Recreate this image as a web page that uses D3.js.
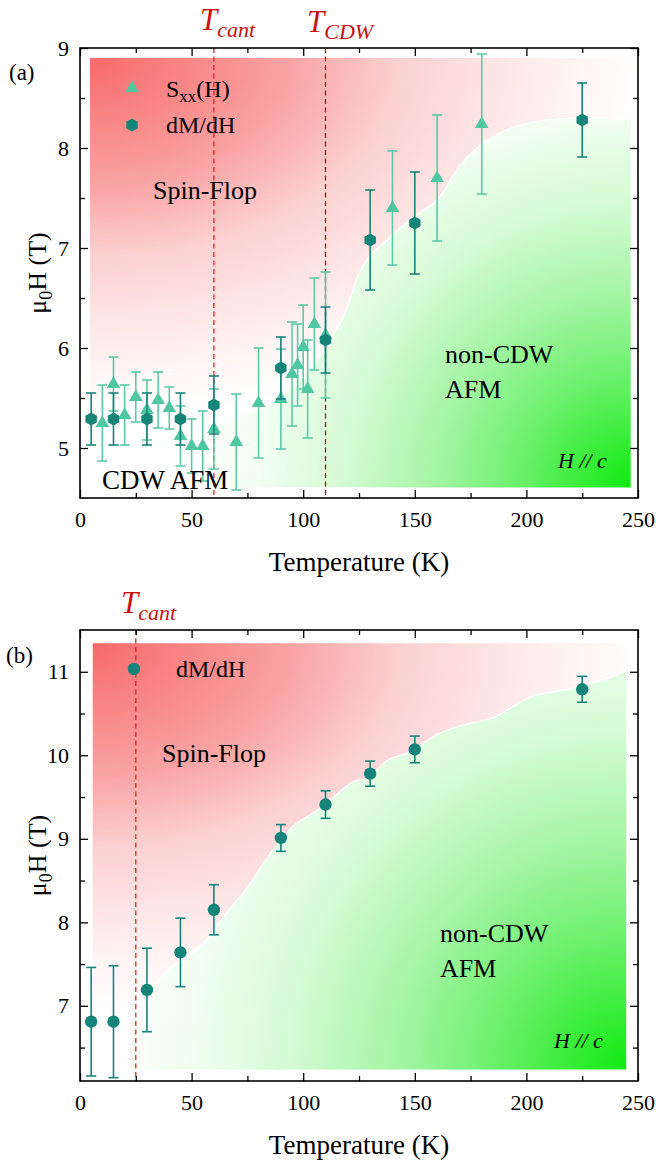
<!DOCTYPE html>
<html>
<head>
<meta charset="utf-8">
<script src="https://cdn.jsdelivr.net/npm/d3@7"></script>
<style>body{margin:0;background:#fff} svg text{font-family:"Liberation Serif","Times New Roman",serif}</style>
</head>
<body>
<div id="container"></div>
<script>
// ---- panel (a): S_xx(H) triangles
const sxxT   = [10, 15, 20, 25, 30, 35, 40, 45, 50, 55, 60, 70, 80, 90, 95, 97.5, 100, 102, 105, 110, 140, 160, 180];
const sxxH   = [5.25, 5.64, 5.33, 5.51, 5.38, 5.48, 5.40, 5.12, 5.02, 5.02, 5.19, 5.06, 5.45, 5.49, 5.74, 5.83, 6.01, 5.59, 6.24, 6.13, 7.40, 7.70, 8.24];
const sxxErr = [0.38, 0.27, 0.30, 0.25, 0.30, 0.28, 0.21, 0.30, 0.27, 0.35, 0.40, 0.48, 0.55, 0.50, 0.52, 0.41, 0.42, 0.49, 0.46, 0.63, 0.57, 0.63, 0.70];

// ---- panel (a): dM/dH hexagons
const dmaT   = [5, 15, 30, 45, 60, 90, 110, 130, 150, 225];
const dmaH   = [5.29, 5.29, 5.29, 5.29, 5.43, 5.80, 6.08, 7.08, 7.25, 8.28];
const dmaErr = [0.26, 0.26, 0.26, 0.26, 0.29, 0.31, 0.33, 0.50, 0.51, 0.37];

// ---- panel (b): dM/dH circles
const dmbT   = [5, 15, 30, 45, 60, 90, 110, 130, 150, 225];
const dmbH   = [6.81, 6.81, 7.19, 7.64, 8.15, 9.01, 9.41, 9.78, 10.07, 10.79];
const dmbErr = [0.65, 0.67, 0.50, 0.41, 0.30, 0.16, 0.165, 0.15, 0.16, 0.155];

// phase boundary (spin-flop / AFM)
const bndaT = [4.5, 30, 49, 75, 90, 104, 114, 118, 125, 139, 152, 160, 171, 185, 209, 224, 247];
const bndaH = [5.15, 5.15, 5.2, 5.34, 5.51, 5.81, 6.15, 6.31, 6.74, 7.11, 7.35, 7.48, 7.85, 8.11, 8.28, 8.30, 8.28];
const bndbT = [5.7, 19, 21, 27, 34, 45, 55, 64, 75, 84, 95, 106, 113, 123, 129, 137, 146, 161, 170, 185, 203, 215, 233, 245];
const bndbH = [6.2, 6.2, 6.46, 6.86, 7.26, 7.54, 7.74, 8.06, 8.42, 8.78, 9.14, 9.34, 9.49, 9.69, 9.73, 9.93, 10.02, 10.26, 10.35, 10.45, 10.71, 10.77, 10.89, 11.01];

// tick values
const xMajor = [0, 50, 100, 150, 200, 250];
const xMinor = [25, 75, 125, 175, 225];
const yaMajor = [5, 6, 7, 8, 9];
const yaMinor = [5.5, 6.5, 7.5, 8.5];
const ybMajor = [7, 8, 9, 10, 11];
const ybMinor = [6.5, 7.5, 8.5, 9.5, 10.5];

const triColor = "#4fc7a0";
const hexColor = "#17847a";

const svg = d3.select("#container").append("svg")
	.attr("width", 656)
	.attr("height", 1161);

const defs = svg.append("defs");

function radial(id, cx, cy, rx, ry, stops) {
	const g = defs.append("radialGradient")
		.attr("id", id)
		.attr("gradientUnits", "userSpaceOnUse")
		.attr("cx", 0).attr("cy", 0).attr("r", 1)
		.attr("gradientTransform", `translate(${cx},${cy}) scale(${rx},${ry})`);
	stops.forEach(s => g.append("stop").attr("offset", s[0]).attr("stop-color", s[1]));
}
const redStops = [[0, "#f76a6a"], [0.35, "#f9a2a2"], [0.55, "#fcd0d0"], [0.75, "#fee8e8"], [0.92, "#fffafa"], [1, "#ffffff"]];
const greenStops = [[0, "#10ea10"], [0.25, "#6af06a"], [0.45, "#a6f5a6"], [0.65, "#d4fbd4"], [0.85, "#f2fef2"], [1, "#ffffff"]];

function hexPath(r) {
	const pts = d3.range(6).map(k => {
		const a = -Math.PI / 2 + k * Math.PI / 3;
		return [r * Math.cos(a), r * Math.sin(a)];
	});
	return "M" + pts.map(p => p.join(",")).join("L") + "Z";
}
const triPath = d3.symbol().type(d3.symbolTriangle).size(80)();

function errorBars(g, T, H, E, x, y, color) {
	const eg = g.append("g").attr("stroke", color).attr("stroke-width", 1.6).attr("fill", "none");
	T.forEach((t, i) => {
		const px = x(t), y1 = y(H[i] + E[i]), y2 = y(H[i] - E[i]);
		eg.append("line").attr("x1", px).attr("x2", px).attr("y1", y1).attr("y2", y2);
		eg.append("line").attr("x1", px - 5).attr("x2", px + 5).attr("y1", y1).attr("y2", y1);
		eg.append("line").attr("x1", px - 5).attr("x2", px + 5).attr("y1", y2).attr("y2", y2);
	});
}

function axes(g, x, y, yMajor, yMinor) {
	const [x0, x1] = x.range();
	const [yb, yt] = y.range();
	const fmt = d3.format("~g");
	const style = a => {
		a.select(".domain").remove();
		a.attr("font-size", 22).attr("font-family", null);
		a.selectAll("line").attr("stroke", "#000").attr("stroke-width", 1.3);
		a.selectAll("text").attr("fill", "#000");
	};
	g.append("g").attr("transform", `translate(0,${yb})`)
		.call(d3.axisBottom(x).tickValues(xMajor).tickSize(-8).tickSizeOuter(0).tickPadding(13).tickFormat(fmt)).call(style);
	g.append("g").attr("transform", `translate(0,${yb})`)
		.call(d3.axisBottom(x).tickValues(xMinor).tickSize(-5).tickSizeOuter(0).tickFormat("")).call(style);
	g.append("g").attr("transform", `translate(0,${yt})`)
		.call(d3.axisTop(x).tickValues(xMajor).tickSize(-8).tickSizeOuter(0).tickFormat("")).call(style);
	g.append("g").attr("transform", `translate(0,${yt})`)
		.call(d3.axisTop(x).tickValues(xMinor).tickSize(-5).tickSizeOuter(0).tickFormat("")).call(style);
	g.append("g").attr("transform", `translate(${x0},0)`)
		.call(d3.axisLeft(y).tickValues(yMajor).tickSize(-8).tickSizeOuter(0).tickPadding(11).tickFormat(fmt)).call(style);
	g.append("g").attr("transform", `translate(${x0},0)`)
		.call(d3.axisLeft(y).tickValues(yMinor).tickSize(-5).tickSizeOuter(0).tickFormat("")).call(style);
	g.append("g").attr("transform", `translate(${x1},0)`)
		.call(d3.axisRight(y).tickValues(yMajor).tickSize(-8).tickSizeOuter(0).tickFormat("")).call(style);
	g.append("g").attr("transform", `translate(${x1},0)`)
		.call(d3.axisRight(y).tickValues(yMinor).tickSize(-5).tickSizeOuter(0).tickFormat("")).call(style);
	g.append("rect").attr("x", x0).attr("y", yt).attr("width", x1 - x0).attr("height", yb - yt)
		.attr("fill", "none").attr("stroke", "#000").attr("stroke-width", 1.6);

	g.append("text").attr("x", (x0 + x1) / 2).attr("y", yb + 73)
		.attr("text-anchor", "middle").attr("font-size", 27).text("Temperature (K)");
	const yl = g.append("text")
		.attr("transform", `translate(46,${(yb + yt) / 2}) rotate(-90)`)
		.attr("text-anchor", "middle").attr("font-size", 26);
	yl.append("tspan").text("\u03bc");
	yl.append("tspan").attr("font-size", 18).attr("dy", 6).text("0");
	yl.append("tspan").attr("dy", -6).text("H (T)");
}

function phase(g, x, y, bT, bH, top, bottom, idR, idG) {
	const pts = bT.map((t, i) => [t, bH[i]]);
	g.append("path").datum(pts)
		.attr("fill", `url(#${idR})`)
		.attr("d", d3.area().x(d => x(d[0])).y0(d => y(d[1])).y1(y(top)).curve(d3.curveMonotoneX));
	g.append("path").datum(pts)
		.attr("fill", `url(#${idG})`)
		.attr("stroke", "#fff").attr("stroke-width", 1.2)
		.attr("d", d3.area().x(d => x(d[0])).y0(y(bottom)).y1(d => y(d[1])).curve(d3.curveMonotoneX));
}

function tLabel(g, px, py, sub, color) {
	const t = g.append("text").attr("x", px).attr("y", py).attr("fill", color)
		.attr("font-style", "italic").attr("font-size", 31);
	t.append("tspan").text("T");
	t.append("tspan").attr("font-size", 22).attr("dy", 7).text(sub);
}

function dashed(g, x, y, t, color) {
	g.append("line").attr("x1", x(t)).attr("x2", x(t))
		.attr("y1", y.range()[1]).attr("y2", y.range()[0])
		.attr("stroke", color).attr("stroke-width", 1.3).attr("stroke-dasharray", "5,3.5");
}

// ================= panel (a)
{
	const x = d3.scaleLinear().domain([0, 250]).range([80, 638]);
	const y = d3.scaleLinear().domain([4.5, 9]).range([498, 48]);
	const g = svg.append("g");
	radial("redA", x(4.5), y(8.9), 560, 360, redStops);
	radial("greenA", x(247), y(4.6), 440, 440, greenStops);
	phase(g, x, y, bndaT, bndaH, 8.9, 4.6, "redA", "greenA");

	dashed(g, x, y, 60, "#d42a2a");
	dashed(g, x, y, 110, "#a01818");

	errorBars(g, sxxT, sxxH, sxxErr, x, y, "#5ccaa6");
	g.append("g").selectAll("path").data(sxxT).join("path")
		.attr("d", triPath).attr("fill", triColor)
		.attr("transform", (d, i) => `translate(${x(d)},${y(sxxH[i])})`);
	errorBars(g, dmaT, dmaH, dmaErr, x, y, hexColor);
	g.append("g").selectAll("path").data(dmaT).join("path")
		.attr("d", hexPath(6.6)).attr("fill", hexColor)
		.attr("transform", (d, i) => `translate(${x(d)},${y(dmaH[i])})`);

	// legend
	g.append("path").attr("d", triPath).attr("fill", triColor).attr("transform", "translate(132,88)");
	const s = g.append("text").attr("x", 166).attr("y", 97).attr("font-size", 24);
	s.append("tspan").text("S");
	s.append("tspan").attr("font-size", 17).attr("dy", 5).text("xx");
	s.append("tspan").attr("dy", -5).text("(H)");
	g.append("path").attr("d", hexPath(6.6)).attr("fill", hexColor).attr("transform", "translate(132,125)");
	g.append("text").attr("x", 166).attr("y", 133).attr("font-size", 24).text("dM/dH");

	g.append("text").attr("x", 153).attr("y", 199).attr("font-size", 26).text("Spin-Flop");
	g.append("text").attr("x", 445).attr("y", 363).attr("font-size", 26).text("non-CDW");
	g.append("text").attr("x", 445).attr("y", 398).attr("font-size", 26).text("AFM");
	g.append("text").attr("x", 102).attr("y", 489).attr("font-size", 27).text("CDW AFM");
	g.append("text").attr("x", 558).attr("y", 468).attr("font-size", 22).attr("font-style", "italic").text("H // c");
	g.append("text").attr("x", 9).attr("y", 80).attr("font-size", 23).text("(a)");

	tLabel(g, 200, 30, "cant", "#cc1111");
	tLabel(g, 307, 32, "CDW", "#cc1111");

	axes(g, x, y, yaMajor, yaMinor);
}

// ================= panel (b)
{
	const x = d3.scaleLinear().domain([0, 250]).range([80, 638]);
	const y = d3.scaleLinear().domain([6.1, 11.5]).range([1081, 630]);
	const g = svg.append("g");
	radial("redB", x(5.7), y(11.34), 560, 370, redStops);
	radial("greenB", x(245), y(6.23), 520, 520, greenStops);
	phase(g, x, y, bndbT, bndbH, 11.34, 6.23, "redB", "greenB");

	dashed(g, x, y, 25, "#d42a2a");

	errorBars(g, dmbT, dmbH, dmbErr, x, y, hexColor);
	g.append("g").selectAll("circle").data(dmbT).join("circle")
		.attr("cx", d => x(d)).attr("cy", (d, i) => y(dmbH[i])).attr("r", 6.2)
		.attr("fill", hexColor);

	g.append("circle").attr("cx", 134).attr("cy", 669).attr("r", 6.2).attr("fill", hexColor);
	g.append("text").attr("x", 176).attr("y", 677).attr("font-size", 24).text("dM/dH");

	g.append("text").attr("x", 162).attr("y", 762).attr("font-size", 26).text("Spin-Flop");
	g.append("text").attr("x", 440).attr("y", 942).attr("font-size", 26).text("non-CDW");
	g.append("text").attr("x", 440).attr("y", 977).attr("font-size", 26).text("AFM");
	g.append("text").attr("x", 554).attr("y", 1048).attr("font-size", 22).attr("font-style", "italic").text("H // c");
	g.append("text").attr("x", 6).attr("y", 663).attr("font-size", 23).text("(b)");

	tLabel(g, 121, 613, "cant", "#cc1111");

	axes(g, x, y, ybMajor, ybMinor);
}
</script>
</body>
</html>
